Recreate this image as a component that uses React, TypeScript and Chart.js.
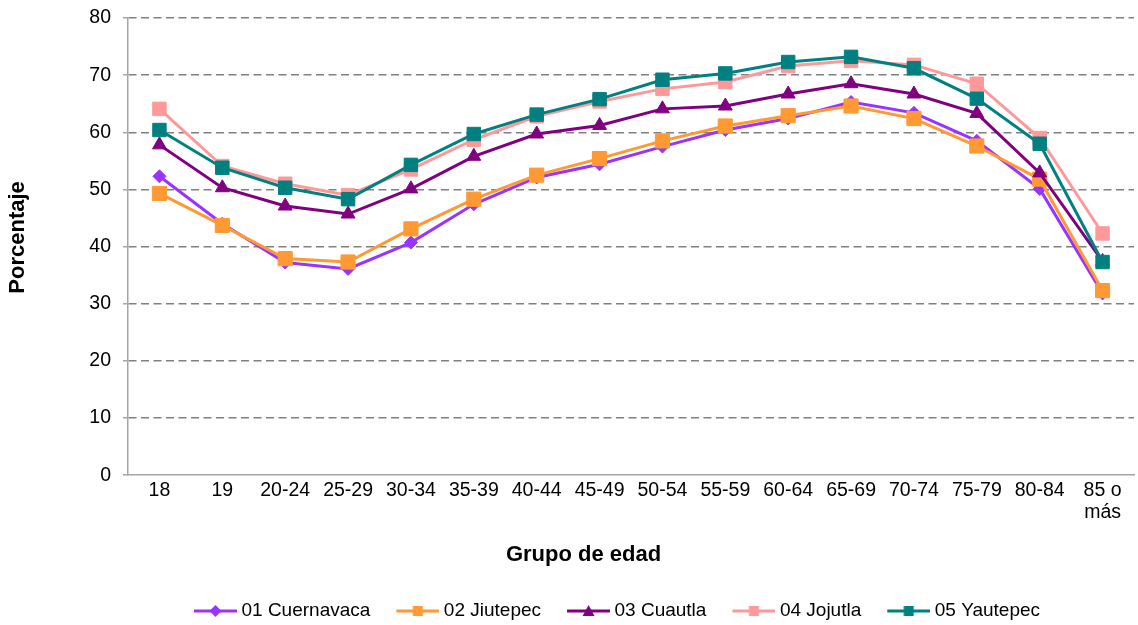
import React, { useEffect, useRef } from 'react';
import { Chart, registerables } from 'chart.js';

Chart.register(...registerables);

const categories: (string | string[])[] = [
  '18', '19', '20-24', '25-29', '30-34', '35-39', '40-44', '45-49',
  '50-54', '55-59', '60-64', '65-69', '70-74', '75-79', '80-84', ['85 o', 'más'],
];

const cuernavaca = [52.3, 44.0, 37.2, 36.1, 40.7, 47.4, 52.1, 54.4, 57.5, 60.4, 62.4, 65.3, 63.4, 58.5, 50.1, 31.8];
const jiutepec = [49.3, 43.7, 37.9, 37.3, 43.1, 48.3, 52.5, 55.4, 58.5, 61.1, 62.9, 64.6, 62.4, 57.6, 51.8, 32.3];
const cuautla = [57.8, 50.3, 47.1, 45.7, 50.1, 55.8, 59.7, 61.2, 64.1, 64.6, 66.7, 68.5, 66.7, 63.3, 52.9, 37.4];
const jojutla = [64.1, 54.1, 51.0, 49.0, 53.5, 58.7, 62.8, 65.4, 67.6, 68.8, 71.6, 72.5, 71.8, 68.5, 59.0, 42.3];
const yautepec = [60.4, 53.8, 50.3, 48.3, 54.3, 59.7, 63.1, 65.8, 69.2, 70.3, 72.3, 73.2, 71.2, 65.9, 58.0, 37.3];

const seriesNames = ['01 Cuernavaca', '02 Jiutepec', '03 Cuautla', '04 Jojutla', '05 Yautepec'];
const seriesValues = [cuernavaca, jiutepec, cuautla, jojutla, yautepec];
const seriesColors = ['#9933FF', '#FF9933', '#800080', '#FF9999', '#008080'];
const seriesShapes = ['rectRot', 'rect', 'triangle', 'rect', 'rect'];
const seriesRadius = [6.5, 10, 8, 9.5, 9.5];

const yTicks = [0, 10, 20, 30, 40, 50, 60, 70, 80];

const FONT = '"Liberation Sans", Arial, sans-serif';

function makeLegendIcon(color: string, shape: string): HTMLCanvasElement {
  const c = document.createElement('canvas');
  c.width = 72;
  c.height = 16;
  const ctx = c.getContext('2d')!;
  ctx.strokeStyle = color;
  ctx.fillStyle = color;
  ctx.lineWidth = 3;
  ctx.beginPath();
  ctx.moveTo(29, 8);
  ctx.lineTo(72, 8);
  ctx.stroke();
  const cx = 50.5;
  const cy = 8;
  ctx.beginPath();
  if (shape === 'rectRot') {
    ctx.moveTo(cx, cy - 6);
    ctx.lineTo(cx + 6, cy);
    ctx.lineTo(cx, cy + 6);
    ctx.lineTo(cx - 6, cy);
    ctx.closePath();
  } else if (shape === 'triangle') {
    ctx.moveTo(cx, cy - 6);
    ctx.lineTo(cx + 6, cy + 5);
    ctx.lineTo(cx - 6, cy + 5);
    ctx.closePath();
  } else {
    ctx.rect(cx - 5, cy - 5, 10, 10);
  }
  ctx.fill();
  return c;
}

export default function App() {
  const ref = useRef<HTMLCanvasElement | null>(null);

  useEffect(() => {
    document.body.style.margin = '0';
    const canvas = ref.current;
    if (!canvas) return;

    const icons = seriesColors.map((c, i) => makeLegendIcon(c, seriesShapes[i]));

    const shiftPlugin = {
      id: 'shiftBoxes',
      afterLayout(chart: any) {
        const lg = chart.legend;
        if (lg) {
          lg.left += 76;
        }
        const tb = chart.titleBlock;
        if (tb) {
          tb.left += 16.5;
          tb.right += 16.5;
        }
      },
    };

    const chart = new Chart(canvas, {
      type: 'line',
      data: {
        labels: categories as any,
        datasets: seriesValues.map((vals, i) => ({
          label: seriesNames[i],
          data: vals,
          borderColor: seriesColors[i],
          backgroundColor: seriesColors[i],
          borderWidth: 3,
          pointStyle: seriesShapes[i] as any,
          pointRadius: seriesRadius[i],
          pointBorderWidth: 1,
          pointBackgroundColor: seriesColors[i],
          pointBorderColor: seriesColors[i],
          tension: 0,
          fill: false,
          clip: false,
          order: 5 - i,
        })),
      },
      options: {
        animation: false,
        responsive: false,
        maintainAspectRatio: false,
        layout: { autoPadding: false, padding: { top: 18, right: 4, bottom: -5.5, left: 0 } },
        scales: {
          x: {
            offset: true,
            afterFit: (s: any) => { s.paddingLeft = 0; s.paddingRight = 0; },
            grid: { display: false, drawTicks: false },
            border: { display: true, color: '#a6a6a6', width: 1.5 },
            ticks: {
              color: '#000',
              padding: 5,
              maxRotation: 0,
              autoSkip: false,
              font: { family: FONT, size: 19.5, lineHeight: 1.1 },
            },
          },
          y: {
            min: 0,
            max: 80,
            afterFit: (s: any) => { s.width = 128; s.paddingTop = 0; s.paddingBottom = 0; },
            afterBuildTicks: (s: any) => { s.ticks = yTicks.map((v) => ({ value: v })); },
            grid: {
              color: (ctx: any) => (ctx.tick && ctx.tick.value === 0 ? 'rgba(0,0,0,0)' : '#808080'),
              lineWidth: 1.5,
              drawTicks: true,
              tickLength: 5,
              tickColor: '#a6a6a6',
              tickWidth: 1.5,
              tickBorderDash: [],
            },
            border: { display: true, color: '#a6a6a6', width: 1.5, dash: [8, 4.5] as any },
            ticks: {
              color: '#000',
              padding: 12,
              font: { family: FONT, size: 19.5 },
            },
            title: {
              display: true,
              text: '   Porcentaje',
              color: '#000',
              padding: { top: 5, bottom: 0 },
              font: { family: FONT, size: 22, weight: 'bold' },
            },
          },
        },
        plugins: {
          title: {
            display: true,
            text: 'Grupo de edad',
            position: 'bottom',
            weight: 500,
            color: '#000',
            padding: { top: 14, bottom: 31 },
            font: { family: FONT, size: 22, weight: 'bold' },
          },
          legend: {
            display: true,
            position: 'bottom',
            labels: {
              color: '#000',
              usePointStyle: true,
              pointStyleWidth: 62,
              boxHeight: 16,
              padding: 2,
              font: { family: FONT, size: 19 },
              generateLabels: () =>
                seriesNames.map((n, i) => ({
                  text: n,
                  pointStyle: icons[i] as any,
                  fillStyle: seriesColors[i],
                  strokeStyle: seriesColors[i],
                  lineWidth: 0,
                  hidden: false,
                  datasetIndex: i,
                  fontColor: '#000',
                })),
            },
          },
          tooltip: { enabled: false },
        },
      },
      plugins: [shiftPlugin],
    } as any);

    return () => chart.destroy();
  }, []);

  return (
    <div style={{ position: 'relative', width: 1138, height: 625 }}>
      <canvas ref={ref} width={1138} height={625} style={{ display: 'block', width: 1138, height: 625 }} />
    </div>
  );
}
